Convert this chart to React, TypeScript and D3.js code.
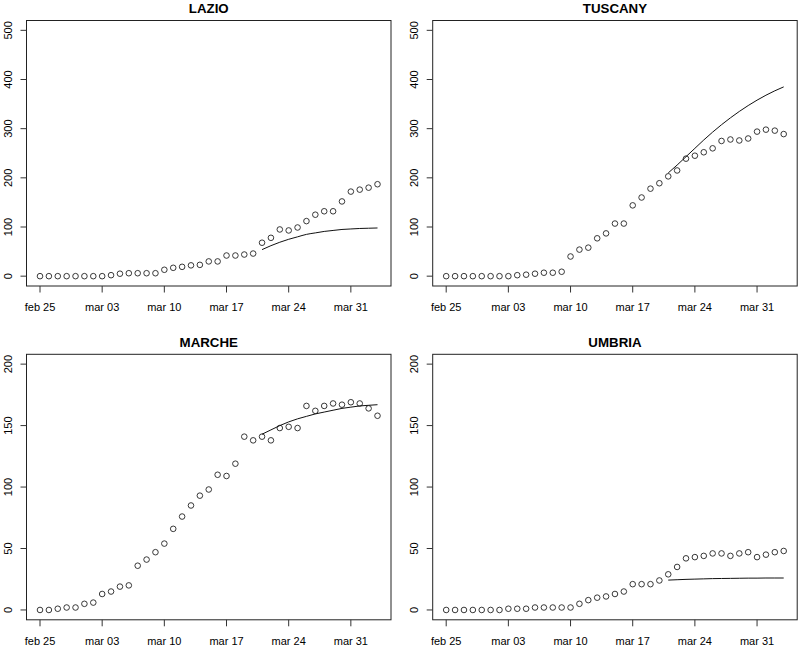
import React, { useRef, useEffect } from "react";
import * as d3 from "d3";

// days from feb 25 to apr 3, 2020
const startDate = new Date(Date.UTC(2020, 1, 25));
const endDate = new Date(Date.UTC(2020, 3, 3));
const fitStart = new Date(Date.UTC(2020, 2, 21));

const tickDates = [
  new Date(Date.UTC(2020, 1, 25)),
  new Date(Date.UTC(2020, 2, 3)),
  new Date(Date.UTC(2020, 2, 10)),
  new Date(Date.UTC(2020, 2, 17)),
  new Date(Date.UTC(2020, 2, 24)),
  new Date(Date.UTC(2020, 2, 31)),
];
const tickLabels = ["feb 25", "mar 03", "mar 10", "mar 17", "mar 24", "mar 31"];

const lazioObs = [0, 0, 0, 0, 0, 0, 0, 0, 2, 5, 6, 6, 6, 6, 13, 17, 19, 22, 23, 30, 30, 42, 42, 44, 46, 68, 78, 95, 93, 99, 112, 125, 132, 132, 152, 172, 176, 180, 187];
const lazioFit = [54, 62, 69, 75, 80, 85, 88, 91, 93, 95, 96, 97, 97.5, 98];

const tuscanyObs = [0, 0, 0, 0, 0, 0, 0, 0, 2, 3, 5, 7, 7, 9, 40, 54, 58, 77, 87, 107, 107, 144, 160, 178, 189, 203, 215, 239, 245, 252, 260, 275, 278, 276, 280, 294, 298, 296, 289];
const tuscanyFit = [210, 226, 243, 260, 277, 293, 308, 322, 335, 347, 358, 368, 377, 385];

const marcheObs = [0, 0, 1, 2, 2, 5, 6, 13, 15, 19, 20, 36, 41, 47, 54, 66, 76, 85, 93, 98, 110, 109, 119, 141, 138, 141, 138, 148, 149, 148, 166, 162, 166, 168, 167, 169, 168, 164, 158];
const marcheFit = [143, 146.5, 150, 153, 155.5, 157.5, 159.5, 161, 162.5, 164, 165, 166, 166.5, 167];

const umbriaObs = [0, 0, 0, 0, 0, 0, 0, 1, 1, 1, 2, 2, 2, 2, 2, 5, 8, 10, 11, 13, 15, 21, 21, 21, 24, 29, 35, 42, 43, 44, 46, 46, 44, 46, 47, 43, 45, 47, 48];
const umbriaFit = [24.3, 24.6, 24.9, 25.1, 25.3, 25.5, 25.6, 25.7, 25.8, 25.9, 25.9, 26, 26, 26];

const panels = [
  { title: "LAZIO", obs: lazioObs, fit: lazioFit, yMax: 500, yStep: 100 },
  { title: "TUSCANY", obs: tuscanyObs, fit: tuscanyFit, yMax: 500, yStep: 100 },
  { title: "MARCHE", obs: marcheObs, fit: marcheFit, yMax: 200, yStep: 50 },
  { title: "UMBRIA", obs: umbriaObs, fit: umbriaFit, yMax: 200, yStep: 50 },
];

const FONT = "'Liberation Sans', Arial, Helvetica, sans-serif";

const App = () => {
  const ref = useRef<SVGSVGElement>(null);

  useEffect(() => {
    const svg = d3.select(ref.current);
    svg.selectAll("*").remove();

    const days = d3.utcDay.range(startDate, d3.utcDay.offset(endDate, 1));
    const fitDays = d3.utcDay.range(fitStart, d3.utcDay.offset(endDate, 1));

    const lefts = [26.5, 432.7];
    const tops = [20.5, 354.3];
    const w = 364.5;
    const h = 265.5;

    // R-style 4% padding
    const span = endDate.getTime() - startDate.getTime();
    const xDomain = [new Date(startDate.getTime() - 0.04 * span), new Date(endDate.getTime() + 0.04 * span)];

    panels.forEach((p, i) => {
      const left = lefts[i % 2];
      const top = tops[Math.floor(i / 2)];
      const g = svg.append("g").attr("transform", `translate(${left}, ${top})`);

      const x = d3.scaleUtc().domain(xDomain).range([0, w]);
      const pad = 0.04 * p.yMax;
      const y = d3.scaleLinear().domain([-pad, p.yMax + pad]).range([h, 0]);

      g.append("rect")
        .attr("width", w)
        .attr("height", h)
        .attr("fill", "none")
        .attr("stroke", "#222")
        .attr("stroke-width", 1);

      g.append("text")
        .attr("x", w / 2)
        .attr("y", -7.8)
        .attr("text-anchor", "middle")
        .attr("font-family", FONT)
        .attr("font-weight", "bold")
        .attr("font-size", 13.3)
        .text(p.title);

      // x axis
      const xg = g.append("g");
      tickDates.forEach((d, k) => {
        xg.append("line")
          .attr("x1", x(d)).attr("x2", x(d))
          .attr("y1", h).attr("y2", h + 6.5)
          .attr("stroke", "#333");
        xg.append("text")
          .attr("x", x(d))
          .attr("y", h + 25)
          .attr("text-anchor", "middle")
          .attr("font-family", FONT)
          .attr("font-size", 11)
          .text(tickLabels[k]);
      });

      // y axis
      const yTicks = d3.range(0, p.yMax + 1, p.yStep);
      const yg = g.append("g");
      yTicks.forEach(v => {
        yg.append("line")
          .attr("x1", -6).attr("x2", 0)
          .attr("y1", y(v)).attr("y2", y(v))
          .attr("stroke", "#333");
        yg.append("text")
          .attr("transform", `translate(${-14.5}, ${y(v)}) rotate(-90)`)
          .attr("text-anchor", "middle")
          .attr("font-family", FONT)
          .attr("font-size", 11)
          .text(String(v));
      });

      g.append("g")
        .selectAll("circle")
        .data(p.obs)
        .join("circle")
        .attr("cx", (_, k) => x(days[k]))
        .attr("cy", d => y(d))
        .attr("r", 2.8)
        .attr("fill", "none")
        .attr("stroke", "#222")
        .attr("stroke-width", 0.9);

      const line = d3.line<number>()
        .x((_, k) => x(fitDays[k]))
        .y(d => y(d))
        .curve(d3.curveMonotoneX);

      g.append("path")
        .datum(p.fit)
        .attr("d", line)
        .attr("fill", "none")
        .attr("stroke", "#111")
        .attr("stroke-width", 1);
    });
  }, []);

  return (
    <svg
      ref={ref}
      width={800}
      height={647}
      style={{ position: "absolute", left: 0, top: 0, background: "#fff" }}
    />
  );
};

export default App;
